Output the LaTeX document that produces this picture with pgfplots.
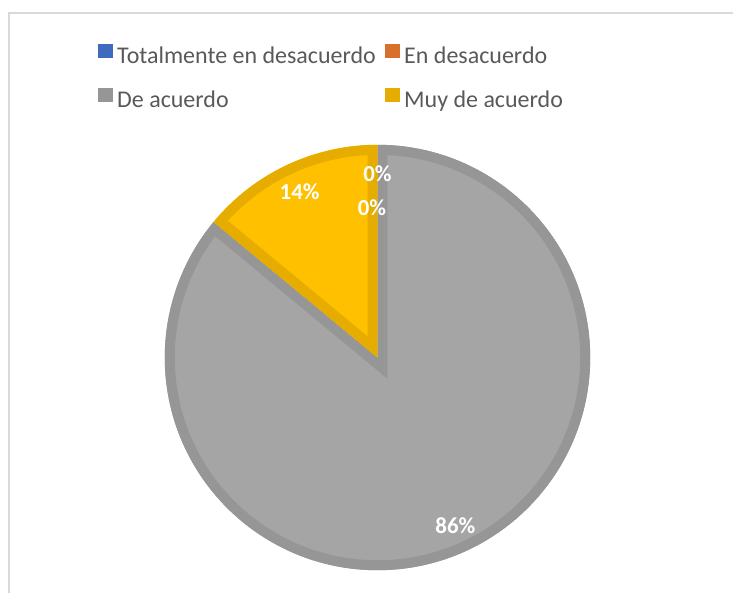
\documentclass[border=0pt]{standalone}
\usepackage{fontspec}
\setmainfont{Carlito}
\usepackage{pgfplots}
\usepackage{pgfplotstable}
\pgfplotsset{compat=1.18}

\definecolor{tblue}{HTML}{3F6BBF}
\definecolor{torange}{HTML}{D8702C}
\definecolor{tgray}{HTML}{A5A5A5}
\definecolor{tgrayD}{HTML}{969696}
\definecolor{tyellow}{HTML}{FFC000}
\definecolor{tyellowD}{HTML}{E6AD00}
\definecolor{ttext}{HTML}{595959}
\definecolor{tframe}{HTML}{D9D9D9}

% answers, in percent
\pgfplotstableread[col sep=comma]{
label,value
Totalmente en desacuerdo,0
En desacuerdo,0
De acuerdo,86
Muy de acuerdo,14
}\piedata
\pgfplotstablegetelem{0}{value}\of\piedata \let\vA\pgfplotsretval
\pgfplotstablegetelem{1}{value}\of\piedata \let\vB\pgfplotsretval
\pgfplotstablegetelem{2}{value}\of\piedata \let\vC\pgfplotsretval
\pgfplotstablegetelem{3}{value}\of\piedata \let\vD\pgfplotsretval

% #1 share before this slice, #2 share, #3 fill, #4 inner border
\newcommand\slice[4]{%
  \ifdim#2pt>0pt
    \fill[#3] (axis cs:378,236) -- ++({90-3.6*(#1)}:159.75pt)
      arc[start angle={90-3.6*(#1)}, end angle={90-3.6*((#1)+(#2))}, radius=159.75pt] -- cycle;
    \begin{scope}
      \clip (axis cs:378,236) -- ++({90-3.6*(#1)}:159.75pt)
        arc[start angle={90-3.6*(#1)}, end angle={90-3.6*((#1)+(#2))}, radius=159.75pt] -- cycle;
      \draw[#4, line width=15pt, line join=miter] (axis cs:378,236) -- ++({90-3.6*(#1)}:159.75pt)
        arc[start angle={90-3.6*(#1)}, end angle={90-3.6*((#1)+(#2))}, radius=159.75pt] -- cycle;
    \end{scope}
  \fi}

\begin{document}
\begin{tikzpicture}
\begin{axis}[
    scale only axis,
    width=550.5pt, height=445.5pt,
    xmin=0, xmax=734, ymin=0, ymax=594,
    hide axis, clip=false,
    legend columns=2,
    legend cell align=left,
    legend style={
        draw=none, fill=none, inner sep=0pt, outer sep=0pt,
        at={(0.1339,0.926)}, anchor=north west,
        font=\fontsize{18}{20}\selectfont, text=ttext,
        nodes={inner sep=0pt, text height=12.5pt, text depth=3.5pt},
        column sep=3.4pt, row sep=15.5pt,
        /tikz/every even column/.append style={column sep=7pt},
    },
]
\path (axis cs:0,0) rectangle (axis cs:734,594);
% frame
\draw[tframe, line width=1.5pt] (axis cs:9,0) -- (axis cs:9,581) -- (axis cs:734,581);

\addlegendimage{legend image code/.code={\fill[tblue] (0pt,0pt) rectangle (10.5pt,9.75pt);}}
\addlegendentry{Totalmente en desacuerdo}
\addlegendimage{legend image code/.code={\fill[torange] (0pt,0pt) rectangle (10.5pt,9.75pt);}}
\addlegendentry{En desacuerdo}
\addlegendimage{legend image code/.code={\fill[tgrayD] (0pt,0pt) rectangle (10.5pt,9.75pt);}}
\addlegendentry{De acuerdo}
\addlegendimage{legend image code/.code={\fill[tyellowD] (0pt,0pt) rectangle (10.5pt,9.75pt);}}
\addlegendentry{Muy de acuerdo}

\slice{0}{\vA}{tblue}{tblue}
\slice{\vA}{\vB}{torange}{torange}
\slice{\vA+\vB}{\vC}{tgray}{tgrayD}
\slice{\vA+\vB+\vC}{\vD}{tyellow}{tyellowD}

\begin{scope}[every node/.style={text=white, font=\fontsize{17.2}{20}\selectfont\bfseries}]
\node at (axis cs:378,420) {0\%};
\node at (axis cs:372.5,385.7) {0\%};
\node at (axis cs:300,402) {14\%};
\node at (axis cs:456,68) {86\%};
\end{scope}
\end{axis}
\end{tikzpicture}
\end{document}
